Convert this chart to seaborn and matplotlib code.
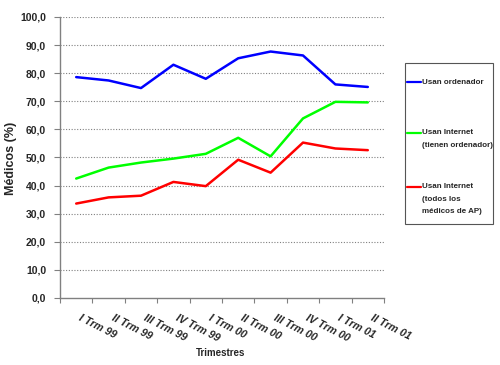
import numpy as np
import pandas as pd
import matplotlib
matplotlib.use("Agg")
import matplotlib.pyplot as plt
from matplotlib.transforms import ScaledTranslation
from matplotlib.patches import Rectangle
from matplotlib.lines import Line2D
import seaborn as sns

quarters = ["I Trm 99", "II Trm 99", "III Trm 99", "IV Trm 99", "I Trm 00",
            "II Trm 00", "III Trm 00", "IV Trm 00", "I Trm 01", "II Trm 01"]
usan_ordenador = [78.6, 77.4, 74.7, 83.0, 78.0, 85.3, 87.7, 86.3, 76.0, 75.1]
internet_con_ordenador = [42.5, 46.4, 48.2, 49.6, 51.3, 57.0, 50.4, 63.9, 69.8, 69.6]
internet_todos = [33.6, 35.8, 36.4, 41.3, 39.8, 49.2, 44.6, 55.3, 53.2, 52.6]
series_labels = ["Usan ordenador",
                 "Usan Internet\n(tienen ordenador)",
                 "Usan Internet\n(todos los\nmédicos de AP)"]
series_colors = ["#0000FF", "#00FF00", "#FF0000"]
y_ticks = [0, 10, 20, 30, 40, 50, 60, 70, 80, 90, 100]

sns.set_style("white")
plt.rcParams["font.family"] = ["Liberation Sans", "DejaVu Sans"]

rows = []
for lab, vals in zip(series_labels, [usan_ordenador, internet_con_ordenador, internet_todos]):
    for i, v in enumerate(vals):
        rows.append({"x": i, "value": v, "serie": lab})
df = pd.DataFrame(rows)

fig = plt.figure(figsize=(5.0, 3.65), dpi=100)
ax = fig.add_axes([0.12, 0.1836, 0.648, 0.7699])

sns.lineplot(data=df, x="x", y="value", hue="serie", hue_order=series_labels,
             palette=dict(zip(series_labels, series_colors)), linewidth=1.8,
             legend=False, ax=ax, sort=False)

ax.set_xlim(-0.5, len(quarters) - 0.5)
ax.set_ylim(0, 100)

# grid
for yv in y_ticks[1:]:
    ax.axhline(yv, color="#808080", linestyle=(0, (1, 1.5)), linewidth=0.8, zorder=0)

for s in ["top", "right"]:
    ax.spines[s].set_visible(False)
for s in ["left", "bottom"]:
    ax.spines[s].set_color("#808080")
    ax.spines[s].set_linewidth(1.0)

ax.set_yticks(y_ticks)
ax.set_yticklabels([f"{v:.1f}".replace(".", ",") for v in y_ticks],
                   fontsize=7.5, fontweight="bold")
ax.tick_params(axis="y", direction="out", length=4, width=0.8, color="#808080", pad=6, left=True)

ax.set_xticks(np.arange(len(quarters)))
ax.set_xticklabels(quarters, fontsize=7.7, fontweight="bold", fontstyle="italic",
                   rotation=-27, ha="left", va="top", rotation_mode="anchor")
ax.tick_params(axis="x", which="major", length=0, pad=11, bottom=True)
ax.set_xticks(np.arange(len(quarters) + 1) - 0.5, minor=True)
ax.tick_params(axis="x", which="minor", direction="out", length=3.5, width=0.8,
               color="#808080", bottom=True)
offset = ScaledTranslation(4 / 72, 0, fig.dpi_scale_trans)
for lbl in ax.get_xticklabels():
    lbl.set_transform(lbl.get_transform() + offset)

ax.set_xlabel("")
ax.set_ylabel("")
fig.text(221 / 500, 1 - 353 / 365, "Trimestres", fontsize=7, fontweight="bold",
         ha="center", va="center")
fig.text(11 / 500, 1 - 158 / 365, "Médicos (%)", fontsize=9, fontweight="bold",
         rotation=90, ha="center", va="center")

# legend box (drawn manually to mimic layout)
fig.patches.append(Rectangle((405 / 500, 1 - 224 / 365), 88 / 500, 161 / 365,
                             transform=fig.transFigure, fill=False,
                             edgecolor="#555555", linewidth=0.8))
entry_y = [82, 133, 187]
for lab, col, yy in zip(series_labels, series_colors, entry_y):
    fig.lines.append(Line2D([407 / 500, 421 / 500], [1 - yy / 365, 1 - yy / 365],
                            transform=fig.transFigure, color=col, linewidth=1.6))
    for k, line in enumerate(lab.split("\n")):
        fig.text(422 / 500, 1 - (yy + k * 12.4) / 365, line, fontsize=5.8,
                 fontweight="bold", ha="left", va="center")

fig.savefig("out.png", dpi=100, facecolor="white")
